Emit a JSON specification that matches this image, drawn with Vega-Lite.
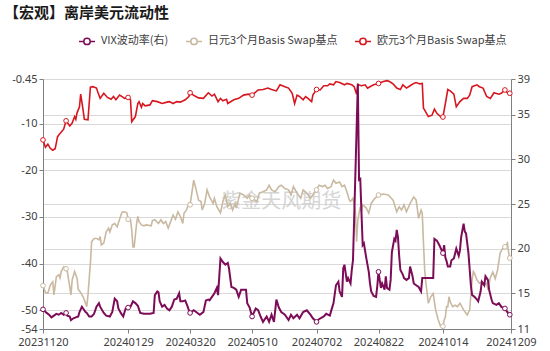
{
 "$schema": "https://vega.github.io/schema/vega-lite/v6.json",
 "width": 468, "height": 250,
 "autosize": {"type": "none"},
 "padding": {"left": 43, "top": 79, "right": 39, "bottom": 22},
 "background": "white",
 "config": {
  "locale": {"number": {"decimal": ".", "thousands": ",", "grouping": [3], "currency": ["$", ""], "minus": "-"}},
  "view": {"stroke": null},
  "font": "Noto Sans CJK SC",
  "axis": {"labelFont": "Noto Sans", "labelFontSize": 11, "labelColor": "#404040", "domainColor": "#808080", "tickColor": "#808080", "gridColor": "#d9d9d9", "gridWidth": 1, "tickSize": 4, "labelPadding": 2}
 },
 "title": {"text": "【宏观】离岸美元流动性", "anchor": "start", "frame": "group", "font": "Noto Sans CJK SC", "fontSize": 15, "fontWeight": "bold", "color": "#1a1a1a", "dx": -39, "offset": 11},
 "datasets": {
  "vix": [
{"d":"2023-11-20","v":13.2},{"d":"2023-11-23","v":12.8},{"d":"2023-11-25","v":12.6},{"d":"2023-11-27","v":12.3},{"d":"2023-11-29","v":12.5},{"d":"2023-12-01","v":12.7},{"d":"2023-12-03","v":12.6},{"d":"2023-12-05","v":12.8},{"d":"2023-12-07","v":12.6},{"d":"2023-12-09","v":12.8},{"d":"2023-12-10","v":12.5},{"d":"2023-12-12","v":12.4},{"d":"2023-12-13","v":12.0},{"d":"2023-12-15","v":12.2},{"d":"2023-12-17","v":12.3},{"d":"2023-12-19","v":12.4},{"d":"2023-12-20","v":12.9},{"d":"2023-12-22","v":13.5},{"d":"2023-12-23","v":13.3},{"d":"2023-12-25","v":12.9},{"d":"2023-12-26","v":12.8},{"d":"2023-12-28","v":12.4},{"d":"2023-12-30","v":12.4},{"d":"2024-01-01","v":12.7},{"d":"2024-01-03","v":13.5},{"d":"2024-01-05","v":13.9},{"d":"2024-01-06","v":13.5},{"d":"2024-01-09","v":12.8},{"d":"2024-01-11","v":12.5},{"d":"2024-01-14","v":12.4},{"d":"2024-01-16","v":12.9},{"d":"2024-01-18","v":14.4},{"d":"2024-01-20","v":14.1},{"d":"2024-01-21","v":13.3},{"d":"2024-01-23","v":12.8},{"d":"2024-01-25","v":12.4},{"d":"2024-01-27","v":13.3},{"d":"2024-01-29","v":13.4},{"d":"2024-01-31","v":13.5},{"d":"2024-02-02","v":14.1},{"d":"2024-02-04","v":13.9},{"d":"2024-02-06","v":13.6},{"d":"2024-02-08","v":12.8},{"d":"2024-02-11","v":12.7},{"d":"2024-02-16","v":12.7},{"d":"2024-02-19","v":12.8},{"d":"2024-02-20","v":14.8},{"d":"2024-02-22","v":15.2},{"d":"2024-02-23","v":15.1},{"d":"2024-02-24","v":14.1},{"d":"2024-02-26","v":13.5},{"d":"2024-02-28","v":13.7},{"d":"2024-03-01","v":13.3},{"d":"2024-03-03","v":13.1},{"d":"2024-03-05","v":13.5},{"d":"2024-03-07","v":14.3},{"d":"2024-03-09","v":14.4},{"d":"2024-03-11","v":15.0},{"d":"2024-03-12","v":14.1},{"d":"2024-03-14","v":14.1},{"d":"2024-03-16","v":14.2},{"d":"2024-03-18","v":13.5},{"d":"2024-03-19","v":13.1},{"d":"2024-03-20","v":12.8},{"d":"2024-03-23","v":13.1},{"d":"2024-03-25","v":12.9},{"d":"2024-03-28","v":12.6},{"d":"2024-03-30","v":12.8},{"d":"2024-03-31","v":12.9},{"d":"2024-04-02","v":14.2},{"d":"2024-04-04","v":14.3},{"d":"2024-04-05","v":14.2},{"d":"2024-04-08","v":14.8},{"d":"2024-04-09","v":15.0},{"d":"2024-04-11","v":15.6},{"d":"2024-04-12","v":14.8},{"d":"2024-04-14","v":18.9},{"d":"2024-04-16","v":18.5},{"d":"2024-04-18","v":18.2},{"d":"2024-04-20","v":18.4},{"d":"2024-04-21","v":17.8},{"d":"2024-04-23","v":15.7},{"d":"2024-04-25","v":15.6},{"d":"2024-04-27","v":15.4},{"d":"2024-04-29","v":14.6},{"d":"2024-05-01","v":15.4},{"d":"2024-05-05","v":15.4},{"d":"2024-05-06","v":13.9},{"d":"2024-05-08","v":13.4},{"d":"2024-05-10","v":12.4},{"d":"2024-05-13","v":13.3},{"d":"2024-05-15","v":13.1},{"d":"2024-05-17","v":12.4},{"d":"2024-05-19","v":11.8},{"d":"2024-05-22","v":12.4},{"d":"2024-05-24","v":11.8},{"d":"2024-05-26","v":12.6},{"d":"2024-05-28","v":11.8},{"d":"2024-05-30","v":14.3},{"d":"2024-06-01","v":13.4},{"d":"2024-06-03","v":12.9},{"d":"2024-06-06","v":12.6},{"d":"2024-06-09","v":12.0},{"d":"2024-06-11","v":12.6},{"d":"2024-06-13","v":12.2},{"d":"2024-06-16","v":12.6},{"d":"2024-06-18","v":12.2},{"d":"2024-06-21","v":12.9},{"d":"2024-06-24","v":13.1},{"d":"2024-06-27","v":12.6},{"d":"2024-06-29","v":12.2},{"d":"2024-07-02","v":11.8},{"d":"2024-07-04","v":12.1},{"d":"2024-07-08","v":12.4},{"d":"2024-07-10","v":12.7},{"d":"2024-07-13","v":12.5},{"d":"2024-07-14","v":13.0},{"d":"2024-07-16","v":13.9},{"d":"2024-07-18","v":15.9},{"d":"2024-07-20","v":16.3},{"d":"2024-07-21","v":15.2},{"d":"2024-07-23","v":14.6},{"d":"2024-07-24","v":17.8},{"d":"2024-07-25","v":18.2},{"d":"2024-07-27","v":16.3},{"d":"2024-07-28","v":16.7},{"d":"2024-07-30","v":16.1},{"d":"2024-07-31","v":17.6},{"d":"2024-08-01","v":18.7},{"d":"2024-08-02","v":23.4},{"d":"2024-08-05","v":38.5},{"d":"2024-08-06","v":27.7},{"d":"2024-08-07","v":27.8},{"d":"2024-08-08","v":24.0},{"d":"2024-08-09","v":20.4},{"d":"2024-08-10","v":20.6},{"d":"2024-08-12","v":18.9},{"d":"2024-08-14","v":17.4},{"d":"2024-08-15","v":16.1},{"d":"2024-08-16","v":15.2},{"d":"2024-08-18","v":14.7},{"d":"2024-08-20","v":14.6},{"d":"2024-08-21","v":15.8},{"d":"2024-08-22","v":17.4},{"d":"2024-08-24","v":15.6},{"d":"2024-08-25","v":16.1},{"d":"2024-08-27","v":15.4},{"d":"2024-08-28","v":16.9},{"d":"2024-08-29","v":15.6},{"d":"2024-08-31","v":15.4},{"d":"2024-09-01","v":16.5},{"d":"2024-09-02","v":19.6},{"d":"2024-09-04","v":21.1},{"d":"2024-09-05","v":20.9},{"d":"2024-09-06","v":22.1},{"d":"2024-09-07","v":21.3},{"d":"2024-09-08","v":19.2},{"d":"2024-09-09","v":17.6},{"d":"2024-09-11","v":17.1},{"d":"2024-09-12","v":16.7},{"d":"2024-09-14","v":16.5},{"d":"2024-09-16","v":16.7},{"d":"2024-09-17","v":18.0},{"d":"2024-09-19","v":16.9},{"d":"2024-09-20","v":16.1},{"d":"2024-09-22","v":15.9},{"d":"2024-09-24","v":15.7},{"d":"2024-09-26","v":15.2},{"d":"2024-09-27","v":16.7},{"d":"2024-09-29","v":16.7},{"d":"2024-10-06","v":16.7},{"d":"2024-10-07","v":21.1},{"d":"2024-10-09","v":20.9},{"d":"2024-10-11","v":20.4},{"d":"2024-10-14","v":19.5},{"d":"2024-10-15","v":20.4},{"d":"2024-10-16","v":19.0},{"d":"2024-10-17","v":18.6},{"d":"2024-10-18","v":18.0},{"d":"2024-10-20","v":18.0},{"d":"2024-10-21","v":18.7},{"d":"2024-10-23","v":18.9},{"d":"2024-10-25","v":20.0},{"d":"2024-10-27","v":19.2},{"d":"2024-10-28","v":19.8},{"d":"2024-10-29","v":21.3},{"d":"2024-10-31","v":22.8},{"d":"2024-11-01","v":21.9},{"d":"2024-11-02","v":21.7},{"d":"2024-11-04","v":19.5},{"d":"2024-11-06","v":15.9},{"d":"2024-11-07","v":14.8},{"d":"2024-11-09","v":14.6},{"d":"2024-11-11","v":14.3},{"d":"2024-11-12","v":14.1},{"d":"2024-11-14","v":15.2},{"d":"2024-11-15","v":16.3},{"d":"2024-11-17","v":15.9},{"d":"2024-11-18","v":16.9},{"d":"2024-11-20","v":16.5},{"d":"2024-11-21","v":15.4},{"d":"2024-11-23","v":14.3},{"d":"2024-11-24","v":13.9},{"d":"2024-11-27","v":13.7},{"d":"2024-11-29","v":13.9},{"d":"2024-12-01","v":13.5},{"d":"2024-12-03","v":13.3},{"d":"2024-12-04","v":13.3},{"d":"2024-12-06","v":12.9},{"d":"2024-12-08","v":12.6}
  ],
  "jpy": [
{"d":"2023-11-20","v":-44.7},{"d":"2023-11-22","v":-46.2},{"d":"2023-11-24","v":-46.3},{"d":"2023-11-26","v":-44.6},{"d":"2023-11-28","v":-43.9},{"d":"2023-11-29","v":-46.7},{"d":"2023-12-01","v":-42.8},{"d":"2023-12-03","v":-42.4},{"d":"2023-12-04","v":-43.1},{"d":"2023-12-05","v":-41.7},{"d":"2023-12-07","v":-40.7},{"d":"2023-12-09","v":-41.1},{"d":"2023-12-10","v":-41.7},{"d":"2023-12-12","v":-44.9},{"d":"2023-12-13","v":-46.7},{"d":"2023-12-14","v":-43.5},{"d":"2023-12-16","v":-41.7},{"d":"2023-12-18","v":-43.1},{"d":"2023-12-19","v":-45.5},{"d":"2023-12-20","v":-45.8},{"d":"2023-12-23","v":-47.1},{"d":"2023-12-25","v":-48.5},{"d":"2023-12-26","v":-49.2},{"d":"2023-12-27","v":-46.7},{"d":"2023-12-29","v":-39.9},{"d":"2023-12-30","v":-35.3},{"d":"2024-01-01","v":-34.6},{"d":"2024-01-03","v":-34.6},{"d":"2024-01-05","v":-34.9},{"d":"2024-01-06","v":-34.2},{"d":"2024-01-07","v":-36.0},{"d":"2024-01-09","v":-35.6},{"d":"2024-01-11","v":-33.2},{"d":"2024-01-13","v":-32.4},{"d":"2024-01-14","v":-33.2},{"d":"2024-01-16","v":-31.7},{"d":"2024-01-18","v":-31.4},{"d":"2024-01-20","v":-32.1},{"d":"2024-01-22","v":-30.5},{"d":"2024-01-24","v":-29.0},{"d":"2024-01-26","v":-28.9},{"d":"2024-01-28","v":-29.1},{"d":"2024-01-29","v":-30.5},{"d":"2024-01-31","v":-30.6},{"d":"2024-02-01","v":-32.8},{"d":"2024-02-02","v":-36.4},{"d":"2024-02-03","v":-36.4},{"d":"2024-02-05","v":-31.4},{"d":"2024-02-06","v":-29.9},{"d":"2024-02-07","v":-31.0},{"d":"2024-02-09","v":-31.7},{"d":"2024-02-11","v":-31.9},{"d":"2024-02-13","v":-31.7},{"d":"2024-02-17","v":-31.9},{"d":"2024-02-18","v":-30.8},{"d":"2024-02-20","v":-30.6},{"d":"2024-02-23","v":-31.4},{"d":"2024-02-25","v":-30.6},{"d":"2024-02-27","v":-31.4},{"d":"2024-02-29","v":-31.0},{"d":"2024-03-02","v":-32.4},{"d":"2024-03-04","v":-31.0},{"d":"2024-03-06","v":-29.6},{"d":"2024-03-08","v":-30.5},{"d":"2024-03-10","v":-28.9},{"d":"2024-03-12","v":-29.9},{"d":"2024-03-14","v":-31.4},{"d":"2024-03-15","v":-29.2},{"d":"2024-03-17","v":-28.5},{"d":"2024-03-19","v":-27.1},{"d":"2024-03-20","v":-27.4},{"d":"2024-03-23","v":-22.1},{"d":"2024-03-25","v":-24.2},{"d":"2024-03-27","v":-26.4},{"d":"2024-03-29","v":-26.7},{"d":"2024-03-30","v":-28.5},{"d":"2024-04-01","v":-27.1},{"d":"2024-04-03","v":-24.2},{"d":"2024-04-05","v":-25.7},{"d":"2024-04-08","v":-27.1},{"d":"2024-04-09","v":-26.0},{"d":"2024-04-11","v":-27.8},{"d":"2024-04-14","v":-29.1},{"d":"2024-04-16","v":-26.7},{"d":"2024-04-18","v":-25.3},{"d":"2024-04-20","v":-27.8},{"d":"2024-04-22","v":-27.1},{"d":"2024-04-24","v":-28.5},{"d":"2024-04-26","v":-27.1},{"d":"2024-04-27","v":-28.1},{"d":"2024-04-30","v":-24.9},{"d":"2024-05-03","v":-25.3},{"d":"2024-05-06","v":-26.0},{"d":"2024-05-08","v":-25.3},{"d":"2024-05-10","v":-26.0},{"d":"2024-05-14","v":-26.7},{"d":"2024-05-16","v":-24.9},{"d":"2024-05-19","v":-24.6},{"d":"2024-05-22","v":-24.2},{"d":"2024-05-24","v":-23.2},{"d":"2024-05-26","v":-24.2},{"d":"2024-05-29","v":-24.6},{"d":"2024-06-01","v":-23.5},{"d":"2024-06-03","v":-23.2},{"d":"2024-06-06","v":-23.9},{"d":"2024-06-09","v":-24.2},{"d":"2024-06-11","v":-25.3},{"d":"2024-06-13","v":-23.5},{"d":"2024-06-16","v":-24.9},{"d":"2024-06-19","v":-26.0},{"d":"2024-06-21","v":-24.2},{"d":"2024-06-24","v":-24.9},{"d":"2024-06-27","v":-26.0},{"d":"2024-06-29","v":-25.3},{"d":"2024-07-02","v":-24.2},{"d":"2024-07-04","v":-23.2},{"d":"2024-07-07","v":-23.5},{"d":"2024-07-09","v":-23.2},{"d":"2024-07-11","v":-23.9},{"d":"2024-07-14","v":-23.5},{"d":"2024-07-16","v":-22.1},{"d":"2024-07-18","v":-22.8},{"d":"2024-07-21","v":-22.5},{"d":"2024-07-23","v":-23.5},{"d":"2024-07-25","v":-23.2},{"d":"2024-07-27","v":-24.6},{"d":"2024-07-29","v":-26.4},{"d":"2024-07-30","v":-26.7},{"d":"2024-08-01","v":-26.0},{"d":"2024-08-03","v":-28.9},{"d":"2024-08-04","v":-35.3},{"d":"2024-08-05","v":-30.7},{"d":"2024-08-07","v":-27.8},{"d":"2024-08-08","v":-28.9},{"d":"2024-08-09","v":-27.4},{"d":"2024-08-12","v":-28.1},{"d":"2024-08-14","v":-29.2},{"d":"2024-08-16","v":-27.1},{"d":"2024-08-19","v":-26.0},{"d":"2024-08-22","v":-25.3},{"d":"2024-08-26","v":-25.1},{"d":"2024-08-30","v":-25.3},{"d":"2024-09-03","v":-26.4},{"d":"2024-09-06","v":-28.9},{"d":"2024-09-08","v":-27.8},{"d":"2024-09-10","v":-28.5},{"d":"2024-09-12","v":-27.4},{"d":"2024-09-14","v":-28.9},{"d":"2024-09-17","v":-27.1},{"d":"2024-09-20","v":-25.7},{"d":"2024-09-22","v":-26.4},{"d":"2024-09-24","v":-30.3},{"d":"2024-09-26","v":-28.5},{"d":"2024-09-27","v":-29.2},{"d":"2024-09-28","v":-35.6},{"d":"2024-09-29","v":-41.4},{"d":"2024-09-30","v":-44.2},{"d":"2024-10-02","v":-48.5},{"d":"2024-10-04","v":-47.1},{"d":"2024-10-06","v":-46.4},{"d":"2024-10-07","v":-48.2},{"d":"2024-10-08","v":-49.9},{"d":"2024-10-10","v":-51.9},{"d":"2024-10-12","v":-53.4},{"d":"2024-10-14","v":-53.4},{"d":"2024-10-15","v":-52.1},{"d":"2024-10-16","v":-51.4},{"d":"2024-10-17","v":-49.2},{"d":"2024-10-18","v":-49.2},{"d":"2024-10-19","v":-47.1},{"d":"2024-10-20","v":-48.2},{"d":"2024-10-22","v":-49.2},{"d":"2024-10-24","v":-48.9},{"d":"2024-10-26","v":-49.2},{"d":"2024-10-28","v":-48.5},{"d":"2024-10-31","v":-49.9},{"d":"2024-11-03","v":-51.0},{"d":"2024-11-05","v":-49.9},{"d":"2024-11-07","v":-43.5},{"d":"2024-11-08","v":-41.7},{"d":"2024-11-09","v":-42.1},{"d":"2024-11-11","v":-43.5},{"d":"2024-11-13","v":-44.2},{"d":"2024-11-15","v":-43.9},{"d":"2024-11-17","v":-44.6},{"d":"2024-11-19","v":-44.2},{"d":"2024-11-20","v":-45.6},{"d":"2024-11-22","v":-43.0},{"d":"2024-11-24","v":-41.8},{"d":"2024-11-26","v":-43.2},{"d":"2024-11-28","v":-41.3},{"d":"2024-11-30","v":-37.8},{"d":"2024-12-02","v":-36.8},{"d":"2024-12-04","v":-36.4},{"d":"2024-12-06","v":-35.6},{"d":"2024-12-07","v":-37.5},{"d":"2024-12-08","v":-38.8}
  ],
  "eur": [
{"d":"2023-11-20","v":-13.5},{"d":"2023-11-22","v":-15.1},{"d":"2023-11-24","v":-14.4},{"d":"2023-11-26","v":-15.3},{"d":"2023-11-28","v":-15.7},{"d":"2023-11-30","v":-15.4},{"d":"2023-12-02","v":-12.8},{"d":"2023-12-04","v":-12.1},{"d":"2023-12-07","v":-11.2},{"d":"2023-12-09","v":-9.4},{"d":"2023-12-12","v":-10.5},{"d":"2023-12-14","v":-9.9},{"d":"2023-12-16","v":-8.5},{"d":"2023-12-17","v":-9.1},{"d":"2023-12-18","v":-7.7},{"d":"2023-12-20","v":-6.4},{"d":"2023-12-21","v":-3.7},{"d":"2023-12-23","v":-7.1},{"d":"2023-12-24","v":-9.1},{"d":"2023-12-27","v":-9.2},{"d":"2023-12-29","v":-2.2},{"d":"2023-12-31","v":-2.1},{"d":"2024-01-03","v":-2.4},{"d":"2024-01-04","v":-3.2},{"d":"2024-01-06","v":-4.6},{"d":"2024-01-09","v":-3.5},{"d":"2024-01-12","v":-4.4},{"d":"2024-01-15","v":-4.8},{"d":"2024-01-17","v":-4.2},{"d":"2024-01-19","v":-4.9},{"d":"2024-01-22","v":-3.9},{"d":"2024-01-25","v":-4.4},{"d":"2024-01-26","v":-4.6},{"d":"2024-01-29","v":-4.4},{"d":"2024-01-31","v":-4.9},{"d":"2024-02-01","v":-9.6},{"d":"2024-02-04","v":-8.5},{"d":"2024-02-06","v":-5.7},{"d":"2024-02-07","v":-5.3},{"d":"2024-02-09","v":-6.5},{"d":"2024-02-10","v":-5.7},{"d":"2024-02-12","v":-6.2},{"d":"2024-02-16","v":-6.0},{"d":"2024-02-18","v":-5.1},{"d":"2024-02-22","v":-5.3},{"d":"2024-02-26","v":-5.7},{"d":"2024-03-01","v":-5.4},{"d":"2024-03-03","v":-5.3},{"d":"2024-03-06","v":-5.7},{"d":"2024-03-09","v":-5.3},{"d":"2024-03-12","v":-5.4},{"d":"2024-03-16","v":-4.9},{"d":"2024-03-19","v":-4.2},{"d":"2024-03-20","v":-3.4},{"d":"2024-03-24","v":-4.1},{"d":"2024-03-27","v":-4.5},{"d":"2024-03-31","v":-4.6},{"d":"2024-04-04","v":-3.4},{"d":"2024-04-07","v":-4.1},{"d":"2024-04-09","v":-3.7},{"d":"2024-04-12","v":-5.3},{"d":"2024-04-14","v":-4.6},{"d":"2024-04-16","v":-5.1},{"d":"2024-04-19","v":-4.8},{"d":"2024-04-20","v":-5.7},{"d":"2024-04-25","v":-4.9},{"d":"2024-04-29","v":-4.6},{"d":"2024-05-03","v":-3.9},{"d":"2024-05-07","v":-3.7},{"d":"2024-05-10","v":-3.9},{"d":"2024-05-15","v":-2.8},{"d":"2024-05-19","v":-2.7},{"d":"2024-05-23","v":-2.4},{"d":"2024-05-26","v":-2.7},{"d":"2024-05-30","v":-3.0},{"d":"2024-06-02","v":-1.7},{"d":"2024-06-04","v":-1.9},{"d":"2024-06-06","v":-2.1},{"d":"2024-06-09","v":-2.4},{"d":"2024-06-12","v":-3.5},{"d":"2024-06-14","v":-5.7},{"d":"2024-06-16","v":-3.9},{"d":"2024-06-18","v":-4.2},{"d":"2024-06-21","v":-4.9},{"d":"2024-06-23","v":-4.2},{"d":"2024-06-25","v":-4.6},{"d":"2024-06-28","v":-5.3},{"d":"2024-06-29","v":-3.9},{"d":"2024-07-02","v":-2.7},{"d":"2024-07-05","v":-2.8},{"d":"2024-07-08","v":-1.9},{"d":"2024-07-11","v":-1.9},{"d":"2024-07-13","v":-1.5},{"d":"2024-07-16","v":-1.7},{"d":"2024-07-18","v":-1.0},{"d":"2024-07-21","v":-1.2},{"d":"2024-07-25","v":-1.7},{"d":"2024-07-27","v":-1.4},{"d":"2024-07-31","v":-1.7},{"d":"2024-08-02","v":-2.1},{"d":"2024-08-04","v":-3.7},{"d":"2024-08-05","v":-1.7},{"d":"2024-08-08","v":-1.9},{"d":"2024-08-11","v":-1.7},{"d":"2024-08-13","v":-2.4},{"d":"2024-08-15","v":-2.1},{"d":"2024-08-18","v":-1.7},{"d":"2024-08-22","v":-1.4},{"d":"2024-08-26","v":-1.0},{"d":"2024-08-29","v":-0.8},{"d":"2024-08-31","v":-1.0},{"d":"2024-09-03","v":-1.5},{"d":"2024-09-06","v":-2.4},{"d":"2024-09-09","v":-2.7},{"d":"2024-09-11","v":-1.7},{"d":"2024-09-14","v":-2.4},{"d":"2024-09-17","v":-1.9},{"d":"2024-09-20","v":-1.4},{"d":"2024-09-22","v":-1.2},{"d":"2024-09-25","v":-1.5},{"d":"2024-09-27","v":-1.4},{"d":"2024-09-28","v":-6.7},{"d":"2024-09-29","v":-7.1},{"d":"2024-10-02","v":-8.5},{"d":"2024-10-05","v":-8.2},{"d":"2024-10-07","v":-6.9},{"d":"2024-10-09","v":-7.8},{"d":"2024-10-12","v":-8.5},{"d":"2024-10-14","v":-8.6},{"d":"2024-10-16","v":-5.7},{"d":"2024-10-18","v":-2.7},{"d":"2024-10-20","v":-3.0},{"d":"2024-10-23","v":-3.7},{"d":"2024-10-25","v":-6.4},{"d":"2024-10-28","v":-5.3},{"d":"2024-10-31","v":-4.6},{"d":"2024-11-03","v":-4.6},{"d":"2024-11-05","v":-3.9},{"d":"2024-11-07","v":-2.1},{"d":"2024-11-09","v":-1.9},{"d":"2024-11-11","v":-1.7},{"d":"2024-11-13","v":-2.1},{"d":"2024-11-16","v":-2.4},{"d":"2024-11-19","v":-4.2},{"d":"2024-11-22","v":-4.6},{"d":"2024-11-25","v":-3.4},{"d":"2024-11-29","v":-3.7},{"d":"2024-12-01","v":-3.5},{"d":"2024-12-04","v":-2.8},{"d":"2024-12-06","v":-3.4},{"d":"2024-12-08","v":-3.5}
  ]
 },
 "layer": [
  {
   "encoding": {
    "x": {"field": "d", "type": "temporal", "title": null,
     "scale": {"type": "utc", "domain": [{"year": 2023, "month": 11, "date": 20, "utc": true}, {"year": 2024, "month": 12, "date": 9, "utc": true}]},
     "axis": {"values": [{"year": 2023, "month": 11, "date": 20, "utc": true}, {"year": 2024, "month": 1, "date": 29, "utc": true}, {"year": 2024, "month": 3, "date": 20, "utc": true}, {"year": 2024, "month": 5, "date": 10, "utc": true}, {"year": 2024, "month": 7, "date": 2, "utc": true}, {"year": 2024, "month": 8, "date": 22, "utc": true}, {"year": 2024, "month": 10, "date": 14, "utc": true}, {"year": 2024, "month": 12, "date": 9, "utc": true}], "format": "%Y%m%d", "labelAngle": 0, "grid": false, "labelOverlap": false, "labelFlush": false, "labelPadding": 3}},
    "y": {"field": "v", "type": "quantitative", "title": null,
     "scale": {"domain": [-54, -0.45], "nice": false, "zero": false},
     "axis": {"orient": "left", "values": [-0.45, -10, -20, -30, -40, -50, -54], "labelExpr": "datum.value == -0.45 ? '-0.45' : format(datum.value, 'd')", "grid": true, "labelOverlap": false, "labelFlush": false}}
   },
   "layer": [
    {"data": {"values": [{"d": "2024-06-03", "v": -26.8, "t": "紫金天风期货"}]},
     "mark": {"type": "text", "font": "Noto Sans CJK SC", "fontSize": 20, "color": "#c8c8c8", "opacity": 0.75},
     "encoding": {"text": {"field": "t"}}},
    {"data": {"name": "jpy"}, "mark": {"type": "line", "strokeWidth": 1.6, "interpolate": "linear"},
     "encoding": {"color": {"datum": "日元3个月Basis Swap基点", "type": "nominal",
      "scale": {"domain": ["VIX波动率(右)", "日元3个月Basis Swap基点", "欧元3个月Basis Swap基点"], "range": ["#7d0c58", "#c9b9a1", "#d7161f"]},
      "legend": {"orient": "none", "legendX": 35, "legendY": -47, "direction": "horizontal", "title": null,
       "symbolType": "M-1,0H-0.4M0.4,0H1M0.4,0A0.4,0.4,0,1,1,-0.4,0A0.4,0.4,0,1,1,0.4,0",
       "symbolSize": 256, "symbolStrokeWidth": 1.5, "symbolFillColor": "white",
       "labelFont": "Noto Sans CJK SC", "labelFontSize": 11, "labelColor": "#404040", "labelLimit": 300, "columnPadding": 14, "labelOffset": 5}}}},
    {"data": {"name": "jpy"}, "transform": [{"filter": "indexof(['2023-11-20','2023-12-09','2024-01-29','2024-03-20','2024-05-10','2024-07-02','2024-08-22','2024-10-14','2024-12-04','2024-12-08'], utcFormat(toDate(datum.d), '%Y-%m-%d')) >= 0"}],
     "mark": {"type": "point", "shape": "circle", "size": 22, "filled": false, "fill": "white", "fillOpacity": 1, "strokeWidth": 1, "opacity": 1},
     "encoding": {"color": {"datum": "日元3个月Basis Swap基点", "type": "nominal"}}},
    {"data": {"name": "eur"}, "mark": {"type": "line", "strokeWidth": 1.6, "interpolate": "linear"},
     "encoding": {"color": {"datum": "欧元3个月Basis Swap基点", "type": "nominal"}}},
    {"data": {"name": "eur"}, "transform": [{"filter": "indexof(['2023-11-20','2023-12-09','2024-01-29','2024-03-20','2024-05-10','2024-07-02','2024-08-22','2024-10-14','2024-12-04','2024-12-08'], utcFormat(toDate(datum.d), '%Y-%m-%d')) >= 0"}],
     "mark": {"type": "point", "shape": "circle", "size": 22, "filled": false, "fill": "white", "fillOpacity": 1, "strokeWidth": 1, "opacity": 1},
     "encoding": {"color": {"datum": "欧元3个月Basis Swap基点", "type": "nominal"}}}
   ]
  },
  {
   "data": {"name": "vix"},
   "encoding": {
    "x": {"field": "d", "type": "temporal", "title": null},
    "y": {"field": "v", "type": "quantitative", "title": null,
     "scale": {"domain": [11, 39], "nice": false, "zero": false},
     "axis": {"orient": "right", "values": [11, 15, 20, 25, 30, 35, 39], "grid": true, "labelOverlap": false, "labelFlush": false}},
    "color": {"datum": "VIX波动率(右)", "type": "nominal"}
   },
   "layer": [
    {"mark": {"type": "line", "strokeWidth": 2, "interpolate": "linear"}},
    {"transform": [{"filter": "indexof(['2023-11-20','2023-12-09','2024-01-29','2024-03-20','2024-05-10','2024-07-02','2024-08-22','2024-10-14','2024-12-04','2024-12-08'], utcFormat(toDate(datum.d), '%Y-%m-%d')) >= 0"}],
     "mark": {"type": "point", "shape": "circle", "size": 22, "filled": false, "fill": "white", "fillOpacity": 1, "strokeWidth": 1, "opacity": 1}}
   ]
  }
 ],
 "resolve": {"scale": {"y": "independent"}}
}
